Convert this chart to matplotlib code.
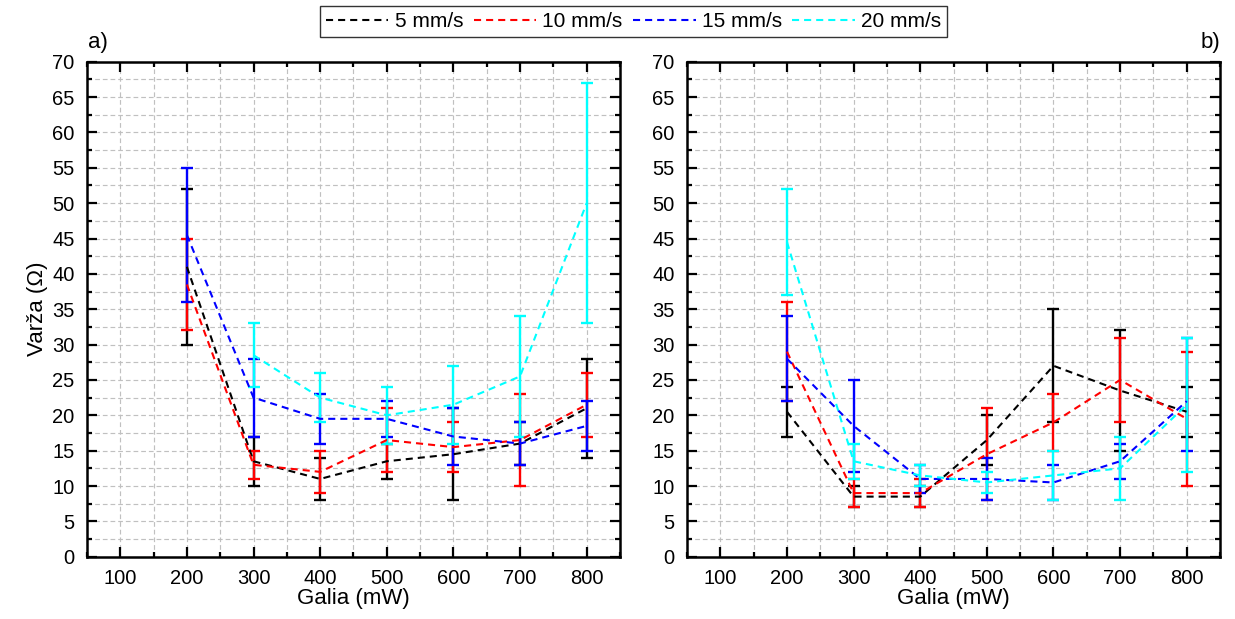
import matplotlib
matplotlib.use("Agg")
import matplotlib.pyplot as plt
from matplotlib.ticker import MultipleLocator

plt.rcParams['font.family'] = ['Liberation Sans', 'DejaVu Sans']

power = [200, 300, 400, 500, 600, 700, 800]
power_cyan_a = [300, 400, 500, 600, 700, 800]
labels = ['5 mm/s', '10 mm/s', '15 mm/s', '20 mm/s']
colors = ['black', '#ff0000', '#0000ff', '#00ffff']

# Panel a) : mean, lower bar end, upper bar end
a_black_mean = [41, 13.5, 11, 13.5, 14.5, 16, 21]
a_black_lo = [30, 10, 8, 11, 8, 13, 14]
a_black_hi = [52, 17, 14, 16, 21, 19, 28]
a_red_mean = [38.5, 13, 12, 16.5, 15.5, 16.5, 21.5]
a_red_lo = [32, 11, 9, 12, 12, 10, 17]
a_red_hi = [45, 15, 15, 21, 19, 23, 26]
a_blue_mean = [45.5, 22.5, 19.5, 19.5, 17, 16, 18.5]
a_blue_lo = [36, 17, 16, 17, 13, 13, 15]
a_blue_hi = [55, 28, 23, 22, 21, 19, 22]
a_cyan_mean = [28.5, 22.5, 20, 21.5, 25.5, 50]
a_cyan_lo = [24, 19, 16, 16, 17, 33]
a_cyan_hi = [33, 26, 24, 27, 34, 67]

# Panel b)
b_black_mean = [20.5, 8.5, 8.5, 16.5, 27, 23.5, 20.5]
b_black_lo = [17, 7, 7, 13, 19, 15, 17]
b_black_hi = [24, 10, 10, 20, 35, 32, 24]
b_red_mean = [29, 9, 9, 14.5, 19, 25, 19.5]
b_red_lo = [22, 7, 7, 8, 15, 19, 10]
b_red_hi = [36, 11, 11, 21, 23, 31, 29]
b_blue_mean = [28, 18.5, 11, 11, 10.5, 13.5, 22]
b_blue_lo = [22, 12, 9, 8, 8, 11, 15]
b_blue_hi = [34, 25, 13, 14, 13, 16, 31]
b_cyan_mean = [44.5, 13.5, 11.5, 10.5, 11.5, 12.5, 21.5]
b_cyan_lo = [37, 11, 10, 9, 8, 8, 12]
b_cyan_hi = [52, 16, 13, 12, 15, 17, 31]

panel_a = [
    (power, a_black_mean, a_black_lo, a_black_hi),
    (power, a_red_mean, a_red_lo, a_red_hi),
    (power, a_blue_mean, a_blue_lo, a_blue_hi),
    (power_cyan_a, a_cyan_mean, a_cyan_lo, a_cyan_hi),
]
panel_b = [
    (power, b_black_mean, b_black_lo, b_black_hi),
    (power, b_red_mean, b_red_lo, b_red_hi),
    (power, b_blue_mean, b_blue_lo, b_blue_hi),
    (power, b_cyan_mean, b_cyan_lo, b_cyan_hi),
]

fig = plt.figure(figsize=(12.35, 6.19), dpi=100)
ax_a = fig.add_axes([0.0704, 0.1006, 0.4316, 0.7997])
ax_b = fig.add_axes([0.5563, 0.1006, 0.4316, 0.7997])

handles = []
for ax, panel in ((ax_a, panel_a), (ax_b, panel_b)):
    for (xs, m, lo, hi), c, lab in zip(panel, colors, labels):
        yerr = [[mi - l for mi, l in zip(m, lo)], [h - mi for mi, h in zip(m, hi)]]
        ax.errorbar(xs, m, yerr=yerr, fmt='none', ecolor=c, elinewidth=1.7,
                    capsize=4.3, capthick=1.7, zorder=3)
        ln, = ax.plot(xs, m, color=c, lw=1.5, linestyle=(0, (3.4, 2.4)), zorder=4, label=lab)
        if ax is ax_a:
            handles.append(ln)
    ax.set_xlim(50, 850)
    ax.set_ylim(0, 70)
    ax.xaxis.set_major_locator(MultipleLocator(100))
    ax.xaxis.set_minor_locator(MultipleLocator(50))
    ax.yaxis.set_major_locator(MultipleLocator(5))
    ax.yaxis.set_minor_locator(MultipleLocator(2.5))
    ax.grid(True, which='both', color='#c0c0c0', linestyle=(0, (4, 2.5)), linewidth=0.85, zorder=0)
    ax.set_axisbelow(True)
    ax.tick_params(which='both', direction='in', top=True, right=True, width=1.6,
                   labelsize=14.5, pad=9)
    ax.tick_params(which='major', length=7)
    ax.tick_params(which='minor', length=3.6)
    for s in ax.spines.values():
        s.set_linewidth(1.8)
    ax.set_xlabel('Galia (mW)', fontsize=16, labelpad=0)

ax_a.set_ylabel('Varža (Ω)', fontsize=16, labelpad=3)
fig.text(0.0715, 0.915, 'a)', fontsize=16, ha='left', va='bottom')
fig.text(0.9879, 0.915, 'b)', fontsize=16, ha='right', va='bottom')

leg = fig.legend(handles=handles, loc='center', bbox_to_anchor=(0.513, 0.965), ncol=4,
                 fontsize=15, frameon=True, fancybox=False, handlelength=3.0,
                 handletextpad=0.3, columnspacing=0.5, borderpad=0.3)
leg.get_frame().set_edgecolor('black')
leg.get_frame().set_linewidth(1.0)

fig.savefig('out.png', dpi=100)
